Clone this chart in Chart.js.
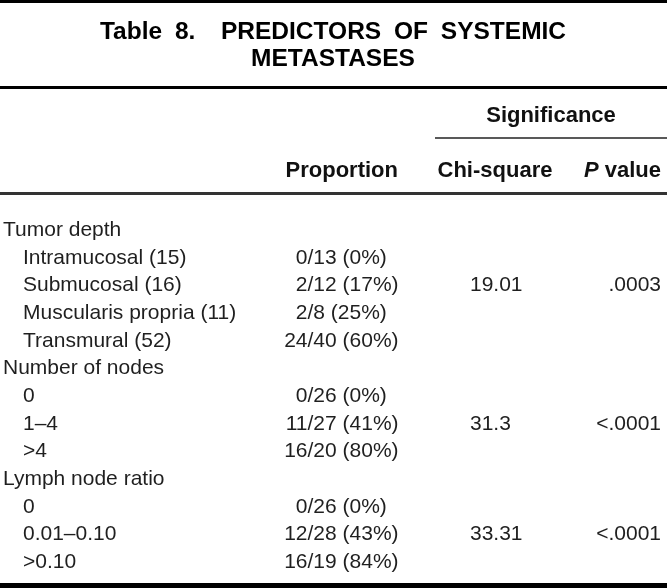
<!DOCTYPE html>
<html><head><meta charset="utf-8">
<script src="https://cdn.jsdelivr.net/npm/chart.js@4"></script>
<style>html,body{margin:0;padding:0;background:#fff}#wrap{width:667px;height:588px}</style>
</head><body><div id="wrap"><canvas id="c"></canvas></div>
<script>
// ---- table content ----
const titleLines = ['Table 8.  PREDICTORS OF SYSTEMIC', 'METASTASES'];
const spanHeader = 'Significance';
const columnHeaders = ['Proportion', 'Chi-square', 'value'];
const groups = ['Tumor depth', 'Number of nodes', 'Lymph node ratio'];
const categories = [
  ['Intramucosal (15)', 'Submucosal (16)', 'Muscularis propria (11)', 'Transmural (52)'],
  ['0', '1\u20134', '>4'],
  ['0', '0.01\u20130.10', '>0.10']
];
const positives = [[0, 2, 2, 24], [0, 11, 16], [0, 12, 16]];
const totals = [[13, 12, 8, 40], [26, 27, 20], [26, 28, 19]];
const percents = [[0, 17, 25, 60], [0, 41, 80], [0, 43, 84]];
const chiSquare = ['19.01', '31.3', '33.31'];
const pValues = ['.0003', '<.0001', '<.0001'];

// ---- layout ----
const W = 667, H = 588;
const ROW_PX = 27.67, FIRST_BASELINE = 236;
const toRow = p => (p - FIRST_BASELINE) / ROW_PX;
const Y_MIN = toRow(0), Y_MAX = toRow(H);
const COL = { label: 3, sub: 23, slash: 307.5, chiLeft: 470, pRight: 661, propRight: 398, chiCenter: 495, sigCenter: 551, title: 333 };

const rules = [
  { y: toRow(1.5), x0: 0, x1: W, w: 3, c: '#000' },
  { y: toRow(87.5), x0: 0, x1: W, w: 3, c: '#000' },
  { y: toRow(138), x0: 435, x1: W, w: 1.4, c: '#222' },
  { y: toRow(193.5), x0: 0, x1: W, w: 3, c: '#333' },
  { y: toRow(585.5), x0: 0, x1: W, w: 5, c: '#000' }
];

// build body rows
const bodyRows = [];
groups.forEach((g, gi) => {
  bodyRows.push({ kind: 'group', text: g });
  categories[gi].forEach((cat, ci) => {
    bodyRows.push({
      kind: 'sub', text: cat,
      num: String(positives[gi][ci]),
      rest: '/' + totals[gi][ci] + ' (' + percents[gi][ci] + '%)',
      chi: ci === 1 ? chiSquare[gi] : null,
      p: ci === 1 ? pValues[gi] : null
    });
  });
});

const BODY_FONT = '21px "Liberation Sans", Arial, Helvetica, sans-serif';
const HEAD_FONT = 'bold 22px "Liberation Sans", Arial, Helvetica, sans-serif';
const HEAD_ITALIC = 'italic bold 22px "Liberation Sans", Arial, Helvetica, sans-serif';
const TITLE_FONT = 'bold 24.5px "Liberation Sans", Arial, Helvetica, sans-serif';

const tablePlugin = {
  id: 'tableText',
  afterDatasetsDraw(chart) {
    const { ctx, scales: { x, y } } = chart;
    const X = v => x.getPixelForValue(v);
    const Y = v => y.getPixelForValue(v);
    ctx.save();
    ctx.textBaseline = 'alphabetic';
    ctx.fillStyle = '#000';
    // title
    ctx.font = TITLE_FONT;
    ctx.textAlign = 'center';
    if ('wordSpacing' in ctx) ctx.wordSpacing = '6px';
    ctx.fillText(titleLines[0], X(COL.title), Y(toRow(39)));
    if ('wordSpacing' in ctx) ctx.wordSpacing = '0px';
    ctx.fillText(titleLines[1], X(COL.title), Y(toRow(66)));
    // headers
    ctx.font = HEAD_FONT;
    ctx.fillStyle = '#111';
    ctx.textAlign = 'center';
    ctx.fillText(spanHeader, X(COL.sigCenter), Y(toRow(122)));
    const hy = Y(toRow(177));
    ctx.textAlign = 'right';
    ctx.fillText(columnHeaders[0], X(COL.propRight), hy);
    ctx.textAlign = 'center';
    ctx.fillText(columnHeaders[1], X(COL.chiCenter), hy);
    ctx.textAlign = 'right';
    const valTxt = ' ' + columnHeaders[2];
    ctx.fillText(valTxt, X(COL.pRight), hy);
    const vw = ctx.measureText(valTxt).width;
    ctx.font = HEAD_ITALIC;
    ctx.fillText('P', X(COL.pRight) - vw, hy);
    // body
    ctx.font = BODY_FONT;
    ctx.fillStyle = '#1f1f1f';
    bodyRows.forEach((r, i) => {
      const by = Y(i);
      ctx.textAlign = 'left';
      if (r.kind === 'group') {
        ctx.fillText(r.text, X(COL.label), by);
        return;
      }
      ctx.fillText(r.text, X(COL.sub), by);
      ctx.textAlign = 'right';
      ctx.fillText(r.num, X(COL.slash), by);
      ctx.textAlign = 'left';
      ctx.fillText(r.rest, X(COL.slash), by);
      if (r.chi) { ctx.textAlign = 'left'; ctx.fillText(r.chi, X(COL.chiLeft), by); }
      if (r.p) { ctx.textAlign = 'right'; ctx.fillText(r.p, X(COL.pRight), by); }
    });
    ctx.restore();
  }
};

new Chart(document.getElementById('c'), {
  type: 'scatter',
  data: {
    datasets: rules.map(r => ({
      data: [{ x: r.x0, y: r.y }, { x: r.x1, y: r.y }],
      showLine: true, borderColor: r.c, borderWidth: r.w,
      pointRadius: 0, pointHoverRadius: 0, fill: false, clip: false, borderCapStyle: 'butt'
    }))
  },
  options: {
    responsive: true, maintainAspectRatio: false, animation: false,
    layout: { padding: 0 },
    events: [],
    plugins: { legend: { display: false }, tooltip: { enabled: false }, title: { display: false } },
    scales: {
      x: { type: 'linear', min: 0, max: W, display: false },
      y: { type: 'linear', min: Y_MIN, max: Y_MAX, reverse: true, display: false }
    }
  },
  plugins: [tablePlugin]
});
</script>
</body></html>
